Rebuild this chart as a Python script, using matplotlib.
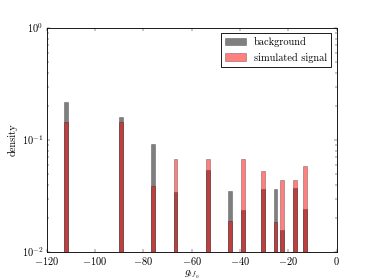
import matplotlib
matplotlib.use("Agg")
import matplotlib.pyplot as plt
import numpy as np

# bin centres of the histogram and densities
bin_centres = [-112.1, -89.3, -76.0, -66.7, -53.3, -44.0, -38.6, -30.6, -25.3, -22.5, -17.2, -13.2]
background = [0.217, 0.158, 0.0917, 0.0332, 0.0528, 0.0341, 0.0227, 0.0358, 0.0358, 0.0148, 0.0365, 0.0234]
signal = [0.144, 0.144, 0.0379, 0.066, 0.066, 0.018, 0.0667, 0.0514, 0.0174, 0.043, 0.043, 0.057]
bin_width = 1.6

plt.style.use('classic')
plt.rcParams['mathtext.fontset'] = 'cm'
plt.rcParams['font.family'] = 'serif'
plt.rcParams['font.serif'] = ['cmr10']
plt.rcParams['axes.formatter.use_mathtext'] = True

dpi = 374 / 6
fig, ax = plt.subplots(figsize=(6, 280 / dpi), dpi=dpi)
fig.patch.set_facecolor('white')

ax.bar(bin_centres, background, width=bin_width, color='k', alpha=0.5,
       edgecolor='k', linewidth=0.6, label='background', bottom=1e-3)
ax.bar(bin_centres, signal, width=bin_width, color='r', alpha=0.5,
       edgecolor='k', linewidth=0.6, label='simulated signal', bottom=1e-3)

ax.set_yscale('log')
ax.set_ylim(1e-2, 1)
ax.set_xlim(-120, 0)
ax.set_xticks(np.arange(-120, 1, 20))
ax.set_xlabel(r'$g_{tf_0}$', labelpad=1)
ax.set_ylabel('density')
ax.legend(loc='upper right', fontsize=12)

plt.savefig('out.png', dpi=dpi)
